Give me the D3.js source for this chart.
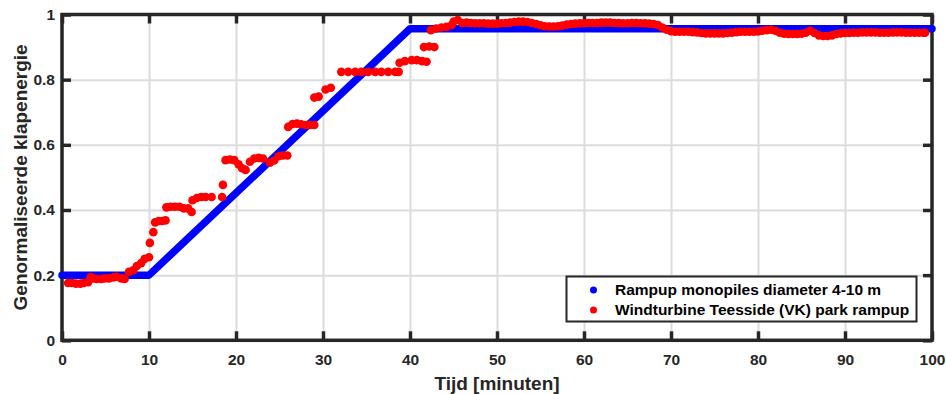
<!DOCTYPE html>
<html>
<head>
<meta charset="utf-8">
<script src="https://cdn.jsdelivr.net/npm/d3@7"></script>
<style>
	body { margin: 0; background: #fff; }
	svg { display: block; font-family: "Liberation Sans", Arial, sans-serif; font-weight: bold; }
</style>
</head>
<body>
<div class="graph"></div>
<script>
// blue series: rampup breakpoints
var rampMinutes = [0, 10, 40, 100];
var rampEnergy = [0.2, 0.2, 0.956, 0.956];

// red series: Teesside measurements, ramp part
var parkMinutes = [0.7, 1.15, 1.6, 2.1, 2.5, 3.0, 3.3, 3.6, 4.0, 4.5, 4.9, 5.4, 5.9, 6.3, 6.8, 7.2,
	7.7, 8.2, 8.6, 9.1, 9.5, 10.0, 10.1, 10.5, 10.7, 11.1, 11.5, 11.9, 12.0, 12.5, 13.0, 13.5,
	14.0, 14.5, 14.9, 15.0, 15.5, 16.0, 16.5, 17.2, 18.4, 18.5, 18.8, 19.3, 19.8, 20.3, 20.7, 21.1,
	21.6, 22.1, 22.6, 23.1, 23.9, 24.4, 24.9, 25.4, 25.9, 26.0, 26.5, 27.0, 27.5, 28.0, 28.5, 29.0,
	29.0, 29.5, 30.3, 30.9, 32.1, 32.9, 33.7, 34.4, 35.2, 36.0, 36.7, 37.5, 38.3, 38.7, 38.8, 39.4,
	40.2, 40.8, 41.4, 41.9, 41.6, 42.2, 42.8, 42.4, 43.0, 43.6, 44.2, 44.8, 45.0, 45.5];
var parkEnergy = [0.176, 0.176, 0.174, 0.174, 0.176, 0.178, 0.194, 0.19, 0.188, 0.188, 0.19, 0.19, 0.193, 0.195, 0.19, 0.188,
	0.21, 0.215, 0.228, 0.237, 0.25, 0.255, 0.299, 0.332, 0.362, 0.366, 0.366, 0.368, 0.408, 0.41, 0.41, 0.41,
	0.405, 0.405, 0.394, 0.43, 0.437, 0.44, 0.44, 0.44, 0.44, 0.477, 0.553, 0.555, 0.553, 0.54, 0.528, 0.523,
	0.548, 0.558, 0.56, 0.558, 0.545, 0.552, 0.565, 0.567, 0.567, 0.655, 0.664, 0.665, 0.663, 0.661, 0.661, 0.661,
	0.745, 0.748, 0.77, 0.775, 0.824, 0.824, 0.824, 0.824, 0.824, 0.824, 0.824, 0.824, 0.824, 0.824, 0.852, 0.857,
	0.86, 0.86, 0.857, 0.855, 0.9, 0.902, 0.9, 0.952, 0.957, 0.96, 0.962, 0.968, 0.978, 0.983];

// red series: plateau part
var plateauMinutes = [46, 46.5, 47, 47.5, 48, 48.5, 49, 49.5, 50, 50.5, 51, 51.5, 52, 52.5, 53, 53.5,
	54, 54.5, 55, 55.5, 56, 56.5, 57, 57.5, 58, 58.5, 59, 59.5, 60, 60.5, 61, 61.5,
	62, 62.5, 63, 63.5, 64, 64.5, 65, 65.5, 66, 66.5, 67, 67.5, 68, 68.5, 69, 69.5,
	70, 70.5, 71, 71.5, 72, 72.5, 73, 73.5, 74, 74.5, 75, 75.5, 76, 76.5, 77, 77.5,
	78, 78.5, 79, 79.5, 80, 80.5, 81, 81.5, 82, 82.5, 83, 83.5, 84, 84.5, 85, 85.5,
	86, 86.5, 87, 87.5, 88, 88.5, 89, 89.5, 90, 90.5, 91, 91.5, 92, 92.5, 93, 93.5,
	94, 94.5, 95, 95.5, 96, 96.5, 97, 97.5, 98, 98.5, 99, 99.2];
var plateauEnergy = [0.974, 0.975, 0.974, 0.973, 0.973, 0.973, 0.972, 0.972, 0.972, 0.973, 0.974, 0.975, 0.977, 0.978, 0.978, 0.977,
	0.974, 0.971, 0.967, 0.964, 0.963, 0.963, 0.964, 0.966, 0.969, 0.971, 0.972, 0.973, 0.973, 0.974, 0.974, 0.974,
	0.975, 0.975, 0.975, 0.974, 0.974, 0.973, 0.973, 0.974, 0.974, 0.973, 0.973, 0.972, 0.971, 0.968, 0.96, 0.953,
	0.949, 0.947, 0.947, 0.947, 0.947, 0.946, 0.945, 0.943, 0.942, 0.942, 0.942, 0.942, 0.942, 0.943, 0.944, 0.946,
	0.947, 0.947, 0.947, 0.947, 0.948, 0.95, 0.952, 0.953, 0.95, 0.944, 0.941, 0.94, 0.94, 0.94, 0.941, 0.944,
	0.95, 0.943, 0.936, 0.934, 0.934, 0.936, 0.94, 0.942, 0.943, 0.943, 0.944, 0.944, 0.945, 0.945, 0.945, 0.945,
	0.944, 0.944, 0.944, 0.945, 0.945, 0.945, 0.944, 0.944, 0.944, 0.944, 0.944, 0.944];

var xTicks = [0, 10, 20, 30, 40, 50, 60, 70, 80, 90, 100];
var yTicks = [0, 0.2, 0.4, 0.6, 0.8, 1];
var yTickLabels = ["0", "0.2", "0.4", "0.6", "0.8", "1"];
var legendNames = ["Rampup monopiles diameter 4-10 m", "Windturbine Teesside (VK) park rampup"];

const WIDTH = 946;
const HEIGHT = 394;
const LEFT = 62, RIGHT = 932, TOP = 14.5, BOTTOM = 340.3;
const INK = "#262626";

var xScale = d3.scaleLinear().domain([0, 100]).range([LEFT, RIGHT]);
var yScale = d3.scaleLinear().domain([0, 1]).range([BOTTOM, TOP]);

var svg = d3.select(".graph").append("svg")
	.attr("width", WIDTH)
	.attr("height", HEIGHT);

// grid
svg.append("g")
	.attr("transform", "translate(0," + BOTTOM + ")")
	.call(d3.axisBottom(xScale).tickValues(xTicks).tickSize(-(BOTTOM - TOP)).tickFormat(""))
	.call(function(g){ g.select(".domain").remove(); })
	.selectAll("line").attr("stroke", "#dcdcdc").attr("stroke-width", 2);
svg.append("g")
	.attr("transform", "translate(" + LEFT + ",0)")
	.call(d3.axisLeft(yScale).tickValues(yTicks).tickSize(-(RIGHT - LEFT)).tickFormat(""))
	.call(function(g){ g.select(".domain").remove(); })
	.selectAll("line").attr("stroke", "#dcdcdc").attr("stroke-width", 2);

// box
svg.append("rect")
	.attr("x", LEFT).attr("y", TOP)
	.attr("width", RIGHT - LEFT).attr("height", BOTTOM - TOP)
	.attr("fill", "none").attr("stroke", INK).attr("stroke-width", 3.5);

var styleAxis = function(g){
	g.select(".domain").remove();
	g.selectAll("line").attr("stroke", INK).attr("stroke-width", 3.5);
	g.selectAll("text").attr("fill", INK).attr("font-size", 15.5)
		.attr("font-family", "'Liberation Sans', Arial, sans-serif").attr("font-weight", "bold");
};

svg.append("g")
	.attr("transform", "translate(0," + BOTTOM + ")")
	.call(d3.axisBottom(xScale).tickValues(xTicks).tickSize(-9).tickPadding(13.5))
	.call(styleAxis);
svg.append("g")
	.attr("transform", "translate(0," + TOP + ")")
	.call(d3.axisTop(xScale).tickValues(xTicks).tickSize(-9).tickFormat(""))
	.call(styleAxis);
svg.append("g")
	.attr("transform", "translate(" + LEFT + ",0)")
	.call(d3.axisLeft(yScale).tickValues(yTicks).tickSize(-9).tickPadding(7)
		.tickFormat(function(d, i){ return yTickLabels[i]; }))
	.call(styleAxis);
svg.append("g")
	.attr("transform", "translate(" + RIGHT + ",0)")
	.call(d3.axisRight(yScale).tickValues(yTicks).tickSize(-9).tickFormat(""))
	.call(styleAxis);

// blue rampup
var line = d3.line()
	.x(function(d, i){ return xScale(rampMinutes[i]); })
	.y(function(d){ return yScale(d); });
svg.append("path")
	.attr("d", line(rampEnergy))
	.attr("fill", "none")
	.attr("stroke", "#0000ff")
	.attr("stroke-width", 7.5)
	.attr("stroke-linecap", "round")
	.attr("stroke-linejoin", "round");

// red measurements
var redPoints = parkMinutes.map(function(m, i){ return [m, parkEnergy[i]]; })
	.concat(plateauMinutes.map(function(m, i){ return [m, plateauEnergy[i]]; }));
svg.append("g").selectAll("circle").data(redPoints).enter().append("circle")
	.attr("cx", function(d){ return xScale(d[0]); })
	.attr("cy", function(d){ return yScale(d[1]); })
	.attr("r", 4.3)
	.attr("fill", "#ff0000");

// axis titles
svg.append("text")
	.attr("x", (LEFT + RIGHT) / 2).attr("y", 390)
	.attr("text-anchor", "middle").attr("font-size", 19).attr("fill", INK)
	.text("Tijd [minuten]");
svg.append("text")
	.attr("transform", "translate(27," + (TOP + BOTTOM) / 2 + ") rotate(-90)")
	.attr("text-anchor", "middle").attr("font-size", 19).attr("fill", INK)
	.text("Genormaliseerde klapenergie");

// legend
var legend = svg.append("g").attr("transform", "translate(566.5,276.5)");
legend.append("rect")
	.attr("width", 350).attr("height", 45)
	.attr("fill", "#fff").attr("stroke", INK).attr("stroke-width", 2);
var legendColors = ["#0000ff", "#ff0000"];
legendNames.forEach(function(name, i){
	legend.append("circle").attr("cx", 27).attr("cy", 13.5 + i * 20).attr("r", 3.5).attr("fill", legendColors[i]);
	legend.append("text").attr("x", 48.5).attr("y", 13.5 + i * 20).attr("dy", "0.35em")
		.attr("font-size", 15.5).attr("fill", "#000").text(name);
});
</script>
</body>
</html>
